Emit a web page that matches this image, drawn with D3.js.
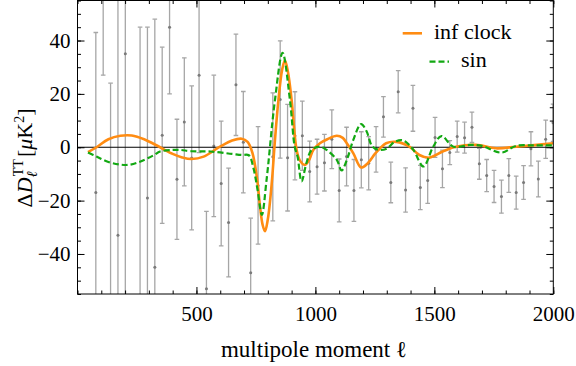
<!DOCTYPE html>
<html>
<head>
<meta charset="utf-8">
<script src="https://cdn.jsdelivr.net/npm/d3@7"></script>
<style>
  body { margin: 0; background: #fff; }
  text { font-family: "Liberation Serif", "DejaVu Serif", "Times New Roman", serif; fill: #000; }
</style>
</head>
<body>
<script>
// binned residuals
var ell = [77,108,139,170,201,263,294,325,356,387,418,449,480,511,542,573,604,635,666,697,728,759,
  821,852,883,914,945,976,1007,1038,1069,1100,1131,1162,1193,1224,1255,1286,1317,1348,1379,1410,
  1441,1472,1503,1534,1565,1596,1627,1658,1689,1720,1751,1782,1813,1844,1875,1906,1937,1968,1999];
var dTT = [-17,62,-62,-33,35,-60,-19,-45,4.5,45,-12,9.5,-4,27,-53,0.5,-13.6,-28.2,23.4,1.9,-47,-14.3,
  -3.6,17.9,-3.9,4.3,4.3,-9.1,-7.3,-5.8,3,-16.2,-3.5,-16.2,-4.7,-6,-0.8,11.4,-13.2,20.8,-16,14.6,
  -15.1,-12.5,3.7,-8.1,-2,4,3.6,7.5,-6.2,-10.6,-14.7,-18.5,-10.6,-17,-13.2,-0.6,-11.9,3,9.2];
var dErr = [60,35,86,95,95,105,64,93,33,25,22.5,24,27,29,29,26.5,23.4,20.4,19,19,20.4,22,
  24,22,20,16.5,13,11.4,10.3,10.6,11,11.8,11,11.6,10.5,10,8.5,7.6,7.6,7.9,8.3,8.6,
  8.3,8.5,7.5,7,4.5,5.8,5.8,5.7,5.8,6,6,6.2,6.3,6.2,6.3,6.4,6.7,7.2,7];

// "inf clock" curve
var clockL = [44,80,130,180,228,280,347,400,440,480,530,599,650,690,715,735,755,767,778,788,800,816,
  830,845,860,872,885,900,921,935,956,975,991,1019,1050,1090,1115,1132,1159,1192,1220,1250,1272,
  1297,1340,1395,1437,1479,1535,1591,1675,1759,1843,1920,2000];
var clockV = [-1.8,0,3,4.3,4.4,3,0,-2.5,-3.8,-4.4,-3.5,0.2,2.5,3.2,2,-2,-12,-22,-29,-31.5,-27,-14,
  2.7,18,29,32.6,28,17.7,-1,-5,-6.6,-4.5,-1,1.5,3,4.3,3.5,1.5,-2.2,-7.6,-6,-2.5,-0.4,
  1.5,2,0.2,-2.9,-3.9,-1.6,0.2,0.9,-0.4,0.2,0.8,1.5];

// "sin" curve
var sinL = [44,80,130,180,215,260,320,347,400,431,480,560,650,690,720,740,757,775,795,830,862,893,
  913,925,942,962,984,1019,1047,1090,1110,1135,1159,1192,1215,1240,1270,1300,1330,1360,1380,1412,
  1454,1495,1530,1580,1650,1700,1782,1843,1920,2000];
var sinV = [-2,-3.5,-5.5,-6.5,-6.6,-5.5,-3,-1.6,-1,-1,-1.5,-1.6,-2.5,-2.9,-3,-8,-16,-25.3,-12,17.7,35.4,17.7,
  0.2,-3.5,-12.8,-6,-1,0.2,-1,-4.7,-8.7,-4,2.7,8.7,6,0.2,-1,-0.5,1.8,2.7,2,-1,
  -7.2,0.2,4.2,0.2,0.9,0.5,-2,0.5,0.7,0.7];

var xTicks = [500, 1000, 1500, 2000];
var yTicks = [-40, -20, 0, 20, 40];

window.onload = function(){
  var width = 576, height = 366;
  var left = 77.5, right = 553.3, top = 0.5, bottom = 294;
  var serif = "'Liberation Serif', 'DejaVu Serif', serif";

  var svg = d3.select("body").append("svg")
    .attr("width", width)
    .attr("height", height);

  var x = d3.scaleLinear().domain([0, 2000]).range([left, right]);
  var y = d3.scaleLinear().domain([-55, 55]).range([bottom, top]);

  svg.append("clipPath").attr("id", "plotclip")
    .append("rect")
    .attr("x", left).attr("y", top)
    .attr("width", right - left).attr("height", bottom - top);

  var plot = svg.append("g").attr("clip-path", "url(#plotclip)");

  // error bars
  var pts = ell.map(function(l, i){ return {l: l, v: dTT[i], e: dErr[i]}; });
  var bars = plot.append("g").selectAll("g").data(pts).enter().append("g")
    .attr("stroke", "#a6a6a6").attr("stroke-width", 1.3);
  bars.append("line")
    .attr("x1", function(d){ return x(d.l); }).attr("x2", function(d){ return x(d.l); })
    .attr("y1", function(d){ return y(d.v - d.e); }).attr("y2", function(d){ return y(d.v + d.e); });
  bars.append("line")
    .attr("x1", function(d){ return x(d.l) - 2.3; }).attr("x2", function(d){ return x(d.l) + 2.3; })
    .attr("y1", function(d){ return y(d.v + d.e); }).attr("y2", function(d){ return y(d.v + d.e); });
  bars.append("line")
    .attr("x1", function(d){ return x(d.l) - 2.3; }).attr("x2", function(d){ return x(d.l) + 2.3; })
    .attr("y1", function(d){ return y(d.v - d.e); }).attr("y2", function(d){ return y(d.v - d.e); });
  plot.append("g").selectAll("circle").data(pts).enter().append("circle")
    .attr("cx", function(d){ return x(d.l); })
    .attr("cy", function(d){ return y(d.v); })
    .attr("r", 1.5)
    .style("fill", "#7a7a7a");

  // zero line
  plot.append("line")
    .attr("x1", left).attr("x2", right)
    .attr("y1", y(0)).attr("y2", y(0))
    .attr("stroke", "#000").attr("stroke-width", 1);

  var line = d3.line()
    .x(function(d){ return x(d[0]); })
    .y(function(d){ return y(d[1]); })
    .curve(d3.curveCatmullRom);

  plot.append("path")
    .datum(clockL.map(function(l, i){ return [l, clockV[i]]; }))
    .attr("d", line)
    .attr("fill", "none")
    .attr("stroke", "#ff8c12")
    .attr("stroke-width", 2.6);

  plot.append("path")
    .datum(sinL.map(function(l, i){ return [l, sinV[i]]; }))
    .attr("d", line)
    .attr("fill", "none")
    .attr("stroke", "#12a812")
    .attr("stroke-width", 2.2)
    .attr("stroke-dasharray", "6,3");

  // axes with inward ticks (frame style)
  function styleAxis(g){
    g.attr("font-family", serif);
    g.select(".domain").remove();
    g.selectAll("line").attr("stroke", "#000").attr("stroke-width", 1);
    g.selectAll("text").attr("font-size", 21).style("font-family", serif);
  }
  var xMinor = d3.range(0, 2001, 100);
  var yMinor = d3.range(-55, 56, 5);

  svg.append("g").attr("transform", "translate(0," + bottom + ")")
    .call(d3.axisBottom(x).tickValues(xMinor).tickSize(-3.5).tickFormat("")).call(styleAxis);
  svg.append("g").attr("transform", "translate(0," + bottom + ")")
    .call(d3.axisBottom(x).tickValues(xTicks).tickSize(-7).tickPadding(12).tickFormat(d3.format("d")))
    .call(styleAxis);
  svg.append("g").attr("transform", "translate(0," + top + ")")
    .call(d3.axisTop(x).tickValues(xMinor).tickSize(-3.5).tickFormat("")).call(styleAxis);
  svg.append("g").attr("transform", "translate(0," + top + ")")
    .call(d3.axisTop(x).tickValues(xTicks).tickSize(-7).tickFormat("")).call(styleAxis);

  svg.append("g").attr("transform", "translate(" + left + ",0)")
    .call(d3.axisLeft(y).tickValues(yMinor).tickSize(-3.5).tickFormat("")).call(styleAxis);
  svg.append("g").attr("transform", "translate(" + left + ",0)")
    .call(d3.axisLeft(y).tickValues(yTicks).tickSize(-7).tickPadding(7)
      .tickFormat(function(d){ return d < 0 ? "\u2212" + Math.abs(d) : d; }))
    .call(styleAxis);
  svg.append("g").attr("transform", "translate(" + right + ",0)")
    .call(d3.axisRight(y).tickValues(yMinor).tickSize(-3.5).tickFormat("")).call(styleAxis);
  svg.append("g").attr("transform", "translate(" + right + ",0)")
    .call(d3.axisRight(y).tickValues(yTicks).tickSize(-7).tickFormat("")).call(styleAxis);

  // frame
  svg.append("rect")
    .attr("x", left).attr("y", top)
    .attr("width", right - left).attr("height", bottom - top)
    .attr("fill", "none").attr("stroke", "#000").attr("stroke-width", 1);

  // axis titles
  svg.append("text")
    .attr("x", 314)
    .attr("y", 357)
    .attr("text-anchor", "middle")
    .style("font-family", serif)
    .style("font-size", "23px")
    .text("multipole moment \u2113");

  var yl = svg.append("text")
    .attr("transform", "translate(32,158) rotate(-90)")
    .attr("text-anchor", "middle")
    .style("font-family", serif)
    .style("font-size", "22px");
  yl.append("tspan").text("\u0394");
  yl.append("tspan").style("font-style", "italic").text("D");
  yl.append("tspan").attr("dy", 5).style("font-size", "15px").style("font-style", "italic").text("\u2113");
  yl.append("tspan").attr("dy", -14).attr("dx", -5).style("font-size", "14px").text("TT");
  yl.append("tspan").attr("dy", 9).attr("dx", 2).text("[");
  yl.append("tspan").style("font-style", "italic").text("\u03bc");
  yl.append("tspan").text("K");
  yl.append("tspan").attr("dy", -8).style("font-size", "14px").text("2");
  yl.append("tspan").attr("dy", 8).text("]");

  // legend
  var leg = svg.append("g").style("font-family", serif);
  leg.append("line").attr("x1", 402.7).attr("x2", 422).attr("y1", 33.3).attr("y2", 33.3)
    .attr("stroke", "#ff8c12").attr("stroke-width", 2.6);
  leg.append("text").attr("x", 434).attr("y", 38.5).style("font-size", "22px").text("inf clock");
  leg.append("line").attr("x1", 429.5).attr("x2", 449).attr("y1", 61.7).attr("y2", 61.7)
    .attr("stroke", "#12a812").attr("stroke-width", 2.2).attr("stroke-dasharray", "6,3");
  leg.append("text").attr("x", 461).attr("y", 67).style("font-size", "22px").text("sin");
};
</script>
</body>
</html>
